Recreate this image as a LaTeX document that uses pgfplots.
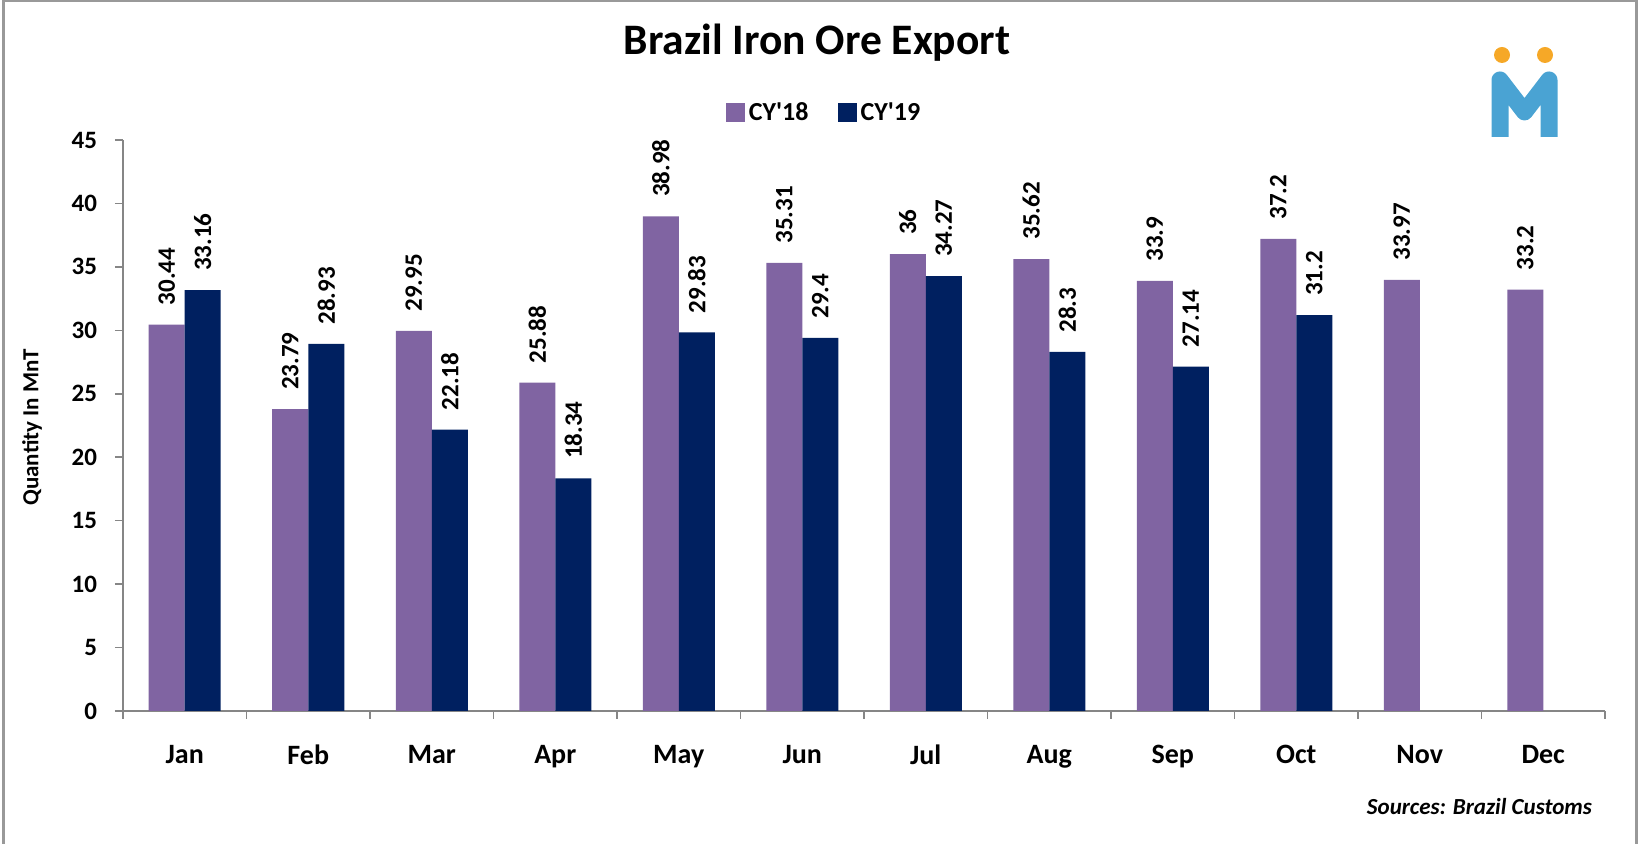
\documentclass[border=0pt]{standalone}
\usepackage{pgfplots}
\pgfplotsset{compat=1.18}
\usepackage{fontspec}
\setmainfont{Carlito}
\definecolor{cpurple}{HTML}{8064A2}
\definecolor{cnavy}{HTML}{002060}
\definecolor{axgray}{HTML}{868686}
\definecolor{logoblue}{HTML}{4AA3D3}
\definecolor{logoorange}{HTML}{F6A827}
\pgfplotsset{sqlegend/.style={legend image code/.code={\fill[##1] (0pt,-4.75pt) rectangle (9.5pt,4.75pt);}}}
\begin{document}
\begin{tikzpicture}[x=1pt,y=1pt]
\useasboundingbox (0,0) rectangle (820,422);
\draw[black!40, line width=1.2pt] (1.8,-5) -- (1.8,421.4) -- (818.3,421.4) -- (818.3,-5);
% logo
\fill[logoorange] (751,394.5) circle (4pt);
\fill[logoorange] (772.5,394.5) circle (4pt);
\draw[logoblue, line width=8.5pt, line join=round, line cap=butt] (750,353.5) -- (750,382) -- (762.25,366) -- (774.5,382) -- (774.5,353.5);
\begin{axis}[
  at={(61.5pt,66.5pt)}, anchor=south west,
  scale only axis, width=741pt, height=285.5pt,
  xmin=-0.5, xmax=11.5, ymin=0, ymax=45,
  axis x line=bottom, axis y line=left,
  axis line style={-, draw=axgray, line width=0.75pt},
  ybar=0pt, bar width=18pt,
  xtick={0,...,11},
  xticklabels={Jan,Feb,Mar,Apr,May,Jun,Jul,Aug,Sep,Oct,Nov,Dec},
  minor xtick={-0.5,0.5,...,11.5},
  ytick={0,5,...,45},
  tick align=outside,
  major tick length=4pt, minor tick length=4pt,
  tick style={draw=axgray, line width=0.75pt},
  every major x tick/.append style={draw=none},
  /pgf/number format/assume math mode=true,
  ticklabel style={font=\bfseries\fontsize{12.5}{14}\selectfont},
  xticklabel style={font=\bfseries\fontsize{14}{16}\selectfont, yshift=-9.5pt},
  yticklabel style={xshift=-5.5pt},
  ylabel={Quantity In MnT},
  every axis y label/.style={at={(axis description cs:-0.0614,0.497)}, rotate=90, anchor=center, font=\bfseries\fontsize{11.5}{13}\selectfont},
  title={Brazil Iron Ore Export},
  title style={at={(axis description cs:0.4683,1.1279)}, anchor=base, font=\bfseries\fontsize{21.75}{24}\selectfont},
  legend columns=2,
  legend style={at={(axis description cs:0.4737,1.0473)}, anchor=center, draw=none, fill=none,
    font=\bfseries\fontsize{13}{15}\selectfont,
    /tikz/every even column/.append style={column sep=12.5pt}},
  nodes near coords,
  every node near coord/.append style={rotate=90, anchor=west, inner sep=0pt, inner xsep=9.5pt, font=\bfseries\fontsize{12.5}{14}\selectfont, text=black},
]
\addplot[fill=cpurple, draw=none, sqlegend] coordinates {
 (0,30.44) (1,23.79) (2,29.95) (3,25.88) (4,38.98) (5,35.31)
 (6,36) (7,35.62) (8,33.9) (9,37.2) (10,33.97) (11,33.2)};
\addplot[fill=cnavy, draw=none, sqlegend] coordinates {
 (0,33.16) (1,28.93) (2,22.18) (3,18.34) (4,29.83) (5,29.4)
 (6,34.27) (7,28.3) (8,27.14) (9,31.2)};
\legend{CY\textquotesingle 18, CY\textquotesingle 19}
\end{axis}
\node[anchor=east, font=\bfseries\itshape\fontsize{11.5}{13}\selectfont] at (799.5,18.5) {Sources: Brazil Customs};
\end{tikzpicture}
\end{document}
